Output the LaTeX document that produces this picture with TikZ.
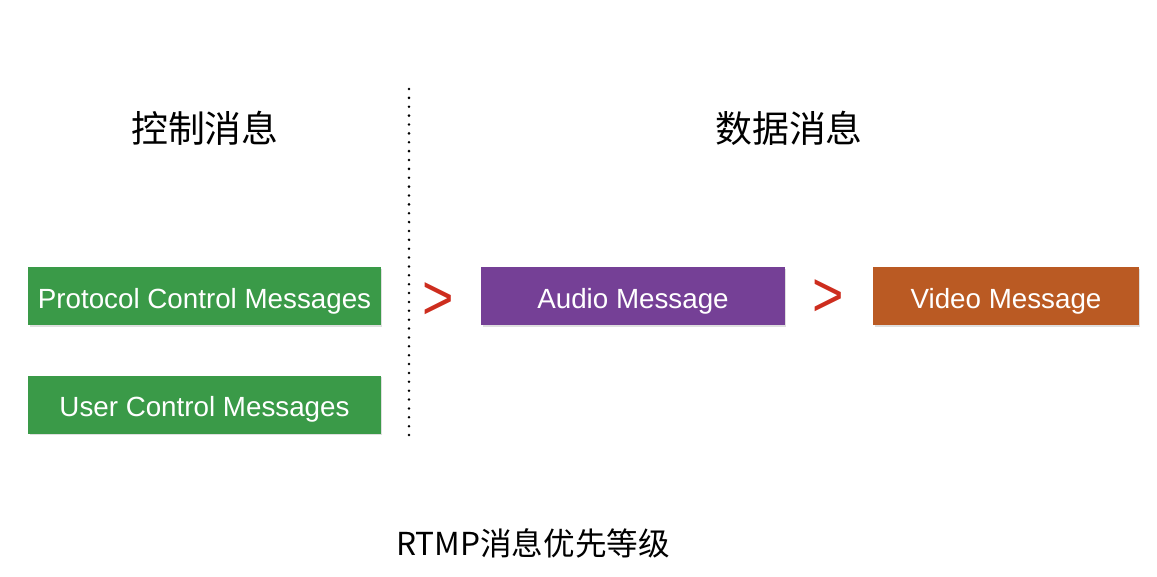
\documentclass[tikz,border=0pt]{standalone}
\usepackage{fontspec}
\setmainfont{Liberation Sans}
\newfontfamily\cjk{Noto Sans CJK SC}
\usetikzlibrary{shadows}
\definecolor{msggreen}{RGB}{58,154,72}
\definecolor{msgpurple}{RGB}{117,64,150}
\definecolor{msgorange}{RGB}{186,90,35}
\definecolor{gtred}{RGB}{205,45,30}
\begin{document}
\begin{tikzpicture}[x=0.02cm,y=-0.02cm,
ctrl/.style ={rectangle, fill=msggreen, text=white, align=center, minimum height=1.16cm, text height=14pt, text depth=0pt, font=\fontsize{15.8}{18}\selectfont, drop shadow={shadow xshift=0.03cm, shadow yshift=-0.03cm, opacity=0.25}},
audio/.style={ctrl, fill=msgpurple},
video/.style={ctrl, fill=msgorange},
gt/.style={text=gtred, font=\fontsize{36}{36}\selectfont},
head/.style={font=\cjk\fontsize{21}{24}\selectfont}]

\useasboundingbox (0,0) rectangle (1157,576);

\draw (205,128) node[head] (Ctrl) {控制消息};
\draw (789,128) node[head] (Data) {数据消息};

\draw (204.5,296) node[ctrl, minimum width=7.06cm] (PCM) {Protocol Control Messages};
\draw (204.5,404.5) node[ctrl, minimum width=7.06cm] (UCM) {User Control Messages};
\draw (633,296) node[audio, minimum width=6.08cm] (Audio) {Audio Message};
\draw (1006,296) node[video, minimum width=5.32cm] (Video) {Video Message};

\draw (438,301) node[gt, xscale=0.85] (Gt1) {>};
\draw (828,298) node[gt, xscale=0.85] (Gt2) {>};

\coordinate (Top) at (409,89);
\coordinate (Bot) at (409,440);
\draw[line width=1.6pt, dash pattern=on 0pt off 5.05pt, line cap=round] (Top)--(Bot);

\draw (533,543) node[font=\cjk\fontsize{18}{20}\selectfont] (Title) {RTMP消息优先等级};

\end{tikzpicture}
\end{document}
